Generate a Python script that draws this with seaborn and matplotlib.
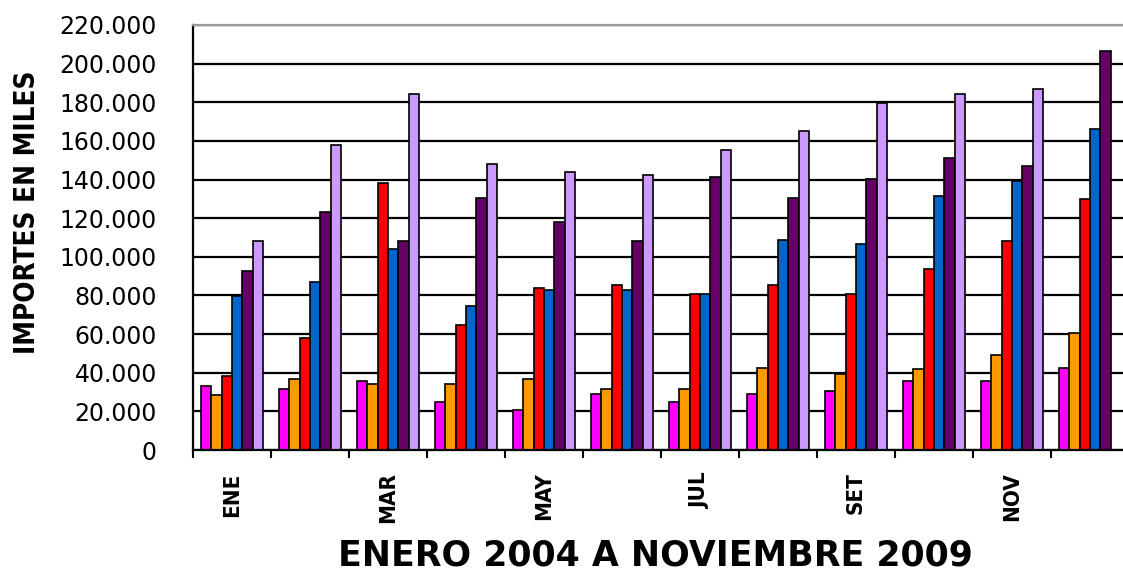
import numpy as np
import pandas as pd
import matplotlib
matplotlib.use("Agg")
import matplotlib.pyplot as plt
import seaborn as sns
from matplotlib.ticker import FuncFormatter, FixedLocator

# Monthly amounts (thousands) per year
months = ['ENE', 'FEB', 'MAR', 'ABR', 'MAY', 'JUN',
          'JUL', 'AGO', 'SET', 'OCT', 'NOV', 'DIC']
years = ['2004', '2005', '2006', '2007', '2008', '2009']

y2004 = [32900, 31500, 35500, 24600, 20800, 29100, 24600, 29100, 30800, 35800, 35500, 42400]
y2005 = [28600, 36900, 34300, 34300, 36900, 31700, 31700, 42400, 39500, 41900, 49400, 60600]
y2006 = [38400, 58000, 138200, 64900, 84000, 85400, 81000, 85400, 81000, 93900, 108200, 129900]
y2007 = [79700, 86900, 103900, 74800, 82800, 82800, 81000, 108600, 106500, 131600, 139400, 166200]
y2008 = [92600, 123000, 108200, 130400, 117800, 108200, 141500, 130400, 140300, 151000, 147200, 206400]
y2009 = [108200, 157900, 184200, 148100, 143700, 142500, 155300, 164900, 179700, 184200, 187000, np.nan]

colors = ['#FF00FF', '#FF9900', '#FF0000', '#0066CC', '#660066', '#CC99FF']

series = [y2004, y2005, y2006, y2007, y2008, y2009]
df = pd.DataFrame({
    'Mes': months * len(years),
    'Anio': np.repeat(years, len(months)),
    'Importe': np.concatenate(series),
})

sns.set_theme(style="white")
plt.rcParams['font.family'] = ['DejaVu Sans']
plt.rcParams['text.color'] = 'black'
plt.rcParams['xtick.color'] = 'black'
plt.rcParams['ytick.color'] = 'black'

fig = plt.figure(figsize=(11.23, 5.72), dpi=100)
ax = fig.add_axes([193 / 1123, 122 / 572, 936 / 1123, 425 / 572])

sns.barplot(data=df, x='Mes', y='Importe', hue='Anio', order=months,
            hue_order=years, palette=colors, width=0.8, saturation=1,
            edgecolor='black', linewidth=1.2, legend=False, ax=ax)

ax.set_ylim(0, 220000)
ax.set_xlim(-0.5, 11.5)
ax.set_yticks(np.arange(0, 220001, 20000))
ax.yaxis.set_major_formatter(FuncFormatter(
    lambda v, _: '0' if v == 0 else f'{int(v):,}'.replace(',', '.')))
ax.yaxis.grid(True, color='black', linewidth=1.6)
ax.set_axisbelow(True)

# labels only every other month, tick marks between groups
ax.set_xticks(range(0, 12, 2))
ax.set_xticklabels(months[::2], rotation=90, fontweight='bold',
                   fontsize=16, fontstretch='condensed', va='top')
ax.xaxis.set_minor_locator(FixedLocator(np.arange(-0.5, 12, 1)))
ax.tick_params(axis='x', which='major', length=0, pad=16)
ax.tick_params(axis='x', which='minor', length=6, width=1.5,
               color='black', direction='out', bottom=True)
ax.tick_params(axis='y', length=0, pad=26, labelsize=17)

ax.set_xlabel('')
ax.set_ylabel('')
for side in ['left', 'bottom']:
    ax.spines[side].set_color('black')
    ax.spines[side].set_linewidth(1.6)
ax.spines['top'].set_color('#999999')
ax.spines['top'].set_linewidth(1.6)
ax.spines['right'].set_visible(False)

fig.text(27 / 1123, 1 - 212 / 572, 'IMPORTES EN MILES', rotation=90,
         ha='center', va='center', fontsize=20, fontweight='bold',
         fontstretch='condensed')
fig.text(655 / 1123, 1 - 555 / 572, 'ENERO 2004 A NOVIEMBRE 2009',
         ha='center', va='center', fontsize=25, fontweight='bold')

fig.savefig('out.png', dpi=100, facecolor='white')
